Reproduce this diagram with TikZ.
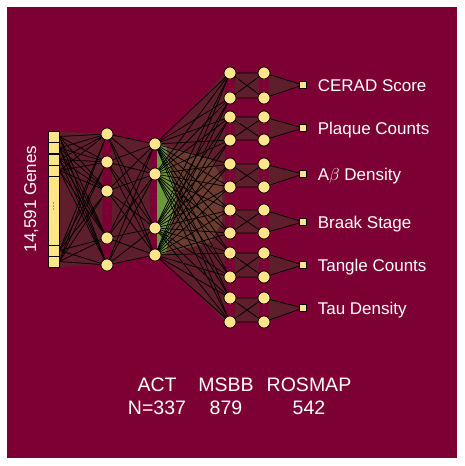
\documentclass[tikz,border=0pt]{standalone}
\usepackage{fontspec}
\setmainfont{Liberation Sans}
\usetikzlibrary{positioning}

\definecolor{wine}{RGB}{124,0,52}
\definecolor{fandark}{RGB}{94,30,44}
\definecolor{cellyellow}{RGB}{255,228,140}
\definecolor{leafgreen}{RGB}{106,153,60}
\definecolor{olivemix}{RGB}{150,150,60}
\definecolor{dotpurple}{RGB}{120,20,80}

\begin{document}
\begin{tikzpicture}[x=1pt,y=-1pt,
                    neuron/.style={circle,draw,fill=cellyellow,minimum size=12pt,inner sep=0pt,line width=0.7pt},
                    gene/.style={rectangle,draw,fill=cellyellow,minimum width=11pt,inner sep=0pt,line width=0.7pt},
                    target/.style={rectangle,draw,fill=cellyellow,minimum size=6.5pt,inner sep=0pt,line width=0.7pt},
                    wire/.style={line width=0.75pt},
                    fan/.style={fill=fandark},
                    pairdots/.style={dotpurple,line width=1.2pt,dash pattern=on 1pt off 2pt},
                    lbl/.style={font=\fontsize{17}{20}\selectfont,text=white,inner sep=0pt,text height=12pt,text depth=0pt,anchor=west},
                    cohort/.style={font=\fontsize{19.5}{22}\selectfont,text=white,inner sep=0pt,text height=14pt,text depth=0pt}]

\useasboundingbox (0,0) rectangle (464,466);
\fill[wine] (7,7) rectangle (457,458);

% shaded fans between the layers
\fill[fan] (59,131) -- (102,134) -- (102,265) -- (59,267) -- cycle;
\fill[fan] (112,134) -- (150,144) -- (150,255) -- (112,265) -- cycle;
\fill[fan] (160,144) -- (225,73) -- (225,322) -- (160,255) -- cycle;
\fill[leafgreen] (157,144) -- (166,146) -- (176,199) -- (166,253) -- (157,255) -- cycle;
\fill[olivemix,opacity=0.25] (166,146) -- (210,158) -- (222,178) -- (222,222) -- (210,243) -- (166,253) -- cycle;
\foreach \ya/\yb/\yo in {73/98/85,117/140/128,164/187/174,210/233/222,253/277/265,298/322/308}{
  \fill[fan] (235,\ya) rectangle (259,\yb);
  \fill[fan] (269,\ya) -- (300,\yo) -- (269,\yb) -- cycle;
}
\foreach \d in {-4,0,4}{
  \fill[dotpurple] (107,213+\d) circle (0.8);
  \fill[dotpurple] (155,198+\d) circle (0.8);
}

% input genes
\foreach \y [count=\i] in {136.5,148,159.5,170.5,250.5,261.5}
  \node[gene,minimum height=11.3pt] (g\i) at (53.5,\y) {};
\node[gene,minimum height=69pt] (gdots) at (53.5,210.5) {};
\foreach \d in {-3,0,3}
  \fill[black!70] (53.5,206+\d) circle (0.7);

% hidden layers
\foreach \y [count=\i] in {134,162,191,238,265}
  \node[neuron] (a\i) at (107,\y) {};
\foreach \y [count=\i] in {144,174,228,255}
  \node[neuron] (b\i) at (155,\y) {};
\foreach \y [count=\i] in {73,98,117,140,164,187,210,233,253,277,298,322}{
  \node[neuron] (c\i) at (230,\y) {};
  \node[neuron] (d\i) at (264,\y) {};
}
\foreach \y [count=\i] in {85,128,174,222,265,308}
  \node[target] (o\i) at (303,\y) {};

% connections
\foreach \i in {1,...,6}
  \foreach \j in {1,...,5}
    \draw[wire] (g\i.east) -- (a\j);
\foreach \i in {1,...,5}
  \foreach \j in {1,...,4}
    \draw[wire] (a\i) -- (b\j);
\foreach \i in {1,...,4}
  \foreach \j in {1,...,12}
    \draw[wire] (b\i) -- (c\j);
\foreach \p in {1,...,6}{
  \pgfmathtruncatemacro\u{2*\p-1}
  \pgfmathtruncatemacro\v{2*\p}
  \draw[wire] (c\u) -- (d\u) (c\u) -- (d\v) (c\v) -- (d\u) (c\v) -- (d\v);
  \draw[wire] (d\u) -- (o\p) (d\v) -- (o\p);
  \draw[pairdots] (c\u) -- (c\v);
  \draw[pairdots] (d\u) -- (d\v);
}

% labels
\foreach \name [count=\i] in {CERAD Score,Plaque Counts,A$\beta$ Density,Braak Stage,Tangle Counts,Tau Density}
  \node[lbl,right=11pt of o\i] (t\i) {\name};
\node[lbl,rotate=90,anchor=center] (genes) at (30,199) {14,591 Genes};

\node[cohort] (act) at (157,384) {ACT};
\node[cohort] (msbb) at (226,384) {MSBB};
\node[cohort] (rosmap) at (309,384) {ROSMAP};
\node[cohort,below=9pt of act] (nact) {N=337};
\node[cohort,below=9pt of msbb] (nmsbb) {879};
\node[cohort,below=9pt of rosmap] (nrosmap) {542};

\end{tikzpicture}
\end{document}
